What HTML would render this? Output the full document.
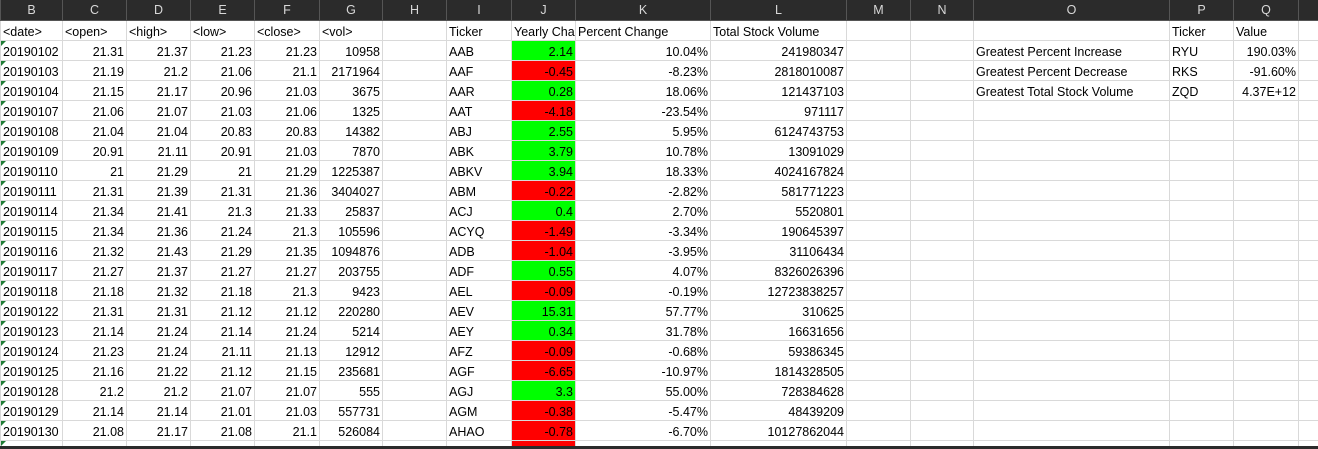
<!DOCTYPE html>
<html><head><meta charset="utf-8">
<style>
html,body{margin:0;padding:0;background:#fff;width:1318px;height:449px;overflow:hidden}
table{border-collapse:collapse;table-layout:fixed;width:1318px;font-family:"Liberation Sans",sans-serif;font-size:12.5px;color:#000}
td{border:1px solid #d9d9d9;padding:3px 2px 0 2px;white-space:nowrap;overflow:hidden;height:16px;line-height:16px}
tr.hdr td{background:#2b2b2b;color:#d8d8d8;text-align:center;border:1px solid #555;border-top:none;padding:0 2px;height:19px;line-height:20px;font-size:12.5px}
td.r{text-align:right}
td.g{background:#00ff00}
td.rd{background:#ff0000}
td.d{position:relative}
td.d::before{content:"";position:absolute;left:0;top:0;border-top:5px solid #1e7b34;border-right:5px solid transparent}
#bar{position:absolute;left:0;top:446px;width:1318px;height:3px;background:#2b2b2b}
</style></head><body>
<table id="t">
<colgroup><col style="width:62px"><col style="width:64px"><col style="width:64px"><col style="width:64px"><col style="width:65px"><col style="width:63px"><col style="width:64px"><col style="width:65px"><col style="width:64px"><col style="width:135px"><col style="width:136px"><col style="width:64px"><col style="width:63px"><col style="width:196px"><col style="width:64px"><col style="width:65px"><col style="width:20px"></colgroup>
<tbody id="tb"></tbody>
</table>
<div id="bar"></div>
<script>
const colLetters=["B","C","D","E","F","G","H","I","J","K","L","M","N","O","P","Q",""];
const stock=[
["20190102","21.31","21.37","21.23","21.23","10958"],
["20190103","21.19","21.2","21.06","21.1","2171964"],
["20190104","21.15","21.17","20.96","21.03","3675"],
["20190107","21.06","21.07","21.03","21.06","1325"],
["20190108","21.04","21.04","20.83","20.83","14382"],
["20190109","20.91","21.11","20.91","21.03","7870"],
["20190110","21","21.29","21","21.29","1225387"],
["20190111","21.31","21.39","21.31","21.36","3404027"],
["20190114","21.34","21.41","21.3","21.33","25837"],
["20190115","21.34","21.36","21.24","21.3","105596"],
["20190116","21.32","21.43","21.29","21.35","1094876"],
["20190117","21.27","21.37","21.27","21.27","203755"],
["20190118","21.18","21.32","21.18","21.3","9423"],
["20190122","21.31","21.31","21.12","21.12","220280"],
["20190123","21.14","21.24","21.14","21.24","5214"],
["20190124","21.23","21.24","21.11","21.13","12912"],
["20190125","21.16","21.22","21.12","21.15","235681"],
["20190128","21.2","21.2","21.07","21.07","555"],
["20190129","21.14","21.14","21.01","21.03","557731"],
["20190130","21.08","21.17","21.08","21.1","526084"],
["20190131","21.09","21.11","20.93","21.11","130"]];
const summary=[
["AAB","2.14","10.04%","241980347"],["AAF","-0.45","-8.23%","2818010087"],["AAR","0.28","18.06%","121437103"],
["AAT","-4.18","-23.54%","971117"],["ABJ","2.55","5.95%","6124743753"],["ABK","3.79","10.78%","13091029"],
["ABKV","3.94","18.33%","4024167824"],["ABM","-0.22","-2.82%","581771223"],["ACJ","0.4","2.70%","5520801"],
["ACYQ","-1.49","-3.34%","190645397"],["ADB","-1.04","-3.95%","31106434"],["ADF","0.55","4.07%","8326026396"],
["AEL","-0.09","-0.19%","12723838257"],["AEV","15.31","57.77%","310625"],["AEY","0.34","31.78%","16631656"],
["AFZ","-0.09","-0.68%","59386345"],["AGF","-6.65","-10.97%","1814328505"],["AGJ","3.3","55.00%","728384628"],
["AGM","-0.38","-5.47%","48439209"],["AHAO","-0.78","-6.70%","10127862044"],["AHF","-1.27","-7.71%","219006048"]];
const greatest=[["Greatest Percent Increase","RYU","190.03%"],["Greatest Percent Decrease","RKS","-91.60%"],["Greatest Total Stock Volume","ZQD","4.37E+12"]];
const tb=document.getElementById('tb');
function cell(tr,txt,cls,name){const td=document.createElement('td');td.textContent=txt;if(cls)td.className=cls;


tr.appendChild(td);return td;}
let tr=document.createElement('tr');tr.className='hdr';


colLetters.forEach(l=>cell(tr,l,'','column-header-'+(l||'r').toLowerCase()));
tb.appendChild(tr);
tr=document.createElement('tr');


["<date>","<open>","<high>","<low>","<close>","<vol>","","Ticker","Yearly Change","Percent Change","Total Stock Volume","","","","Ticker","Value",""].forEach((t,i)=>cell(tr,t,'','label-'+i));
tb.appendChild(tr);
for(let i=0;i<stock.length;i++){
 tr=document.createElement('tr');
 
 
 const s=stock[i],m=summary[i];
 cell(tr,s[0],'d','date-cell');
 for(let k=1;k<6;k++)cell(tr,s[k],'r','price-cell');
 cell(tr,'','','empty-cell');
 cell(tr,m[0],'','ticker-cell');
 cell(tr,m[1],'r '+(parseFloat(m[1])>=0?'g':'rd'),'yearly-change-cell');
 cell(tr,m[2],'r','percent-change-cell');
 cell(tr,m[3],'r','total-volume-cell');
 cell(tr,'','','empty-cell');cell(tr,'','','empty-cell');
 const g=greatest[i];
 cell(tr,g?g[0]:'','','greatest-label-cell');
 cell(tr,g?g[1]:'','','greatest-ticker-cell');
 cell(tr,g?g[2]:'','r','greatest-value-cell');
 cell(tr,'','','empty-cell');
 tb.appendChild(tr);
}
</script>
</body></html>
